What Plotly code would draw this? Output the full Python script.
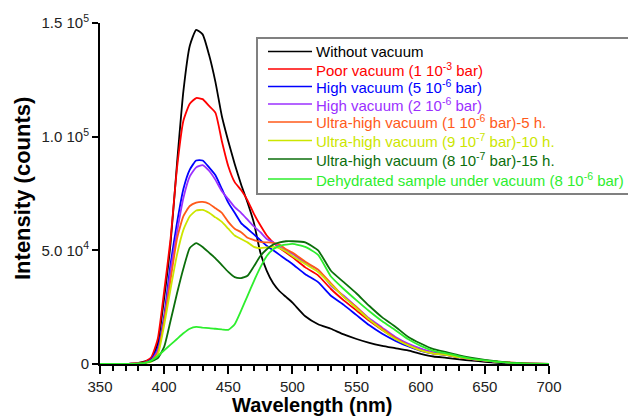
import plotly.graph_objects as go

# ---------------- data ----------------
wavelength = [350, 360, 370, 375, 380, 385, 390, 395, 400, 405, 410, 415, 420, 425, 430, 435,
              440, 445, 450, 455, 460, 465, 470, 475, 480, 485, 490, 495, 500,
              510, 520, 530, 540, 550, 560, 570, 580, 590, 600, 610, 620, 630, 640, 650,
              660, 670, 680, 690, 700]

# intensities in thousands of counts
without_vacuum = [0, 0, 0, 0.2, 0.5, 1.2, 2.5, 9, 29, 53, 88, 120, 140, 147, 145, 136,
                  124, 109, 98, 88, 79, 71, 62, 49, 41, 35.5, 32, 29.5, 27,
                  21, 17.5, 15.5, 13, 11, 9.3, 8, 7, 6, 4.5, 3.3, 2.7, 2, 1.5, 1,
                  0.5, 0.2, 0, 0, 0]
poor_vacuum = [0, 0, 0, 0.2, 0.5, 1, 3, 11, 32, 55, 86, 107, 114.5, 117, 116.5, 113.5,
               110.5, 98, 87, 80, 76.5, 72, 66, 61, 56.5, 53.5, 51, 49, 47,
               42.5, 39, 33, 28, 23.5, 19, 15, 11.5, 8.7, 6.5, 5, 4, 3, 2.2, 1.5,
               0.9, 0.5, 0.2, 0.05, 0]
high_vac_5e6 = [0, 0, 0, 0.1, 0.3, 0.6, 2, 7, 21, 44, 62, 77, 85.5, 89.5, 89.5, 86.5,
                83, 77, 71, 66.5, 62, 59.5, 57, 54.5, 52, 50, 48, 46, 44,
                39.5, 36, 30, 26, 21.5, 17, 13.3, 10.3, 7.8, 5.8, 4.6, 4, 3, 2.2, 1.5,
                0.9, 0.5, 0.2, 0.05, 0]
high_vac_2e6 = [0, 0, 0, 0.1, 0.3, 0.5, 1.5, 6, 19, 41, 58, 73, 82.5, 86.5, 87.5, 85,
                81, 76, 72.5, 69, 66.5, 63.5, 60.5, 58, 55, 53.5, 51.5, 50, 48.5,
                44.5, 41.5, 34.5, 30, 25, 20, 16, 12, 9, 6.8, 5, 4.1, 3.1, 2.2, 1.6,
                1, 0.6, 0.3, 0.1, 0]
uhv_5h = [0, 0, 0, 0.1, 0.3, 0.5, 1.5, 5, 19, 37, 55, 65, 69.5, 71, 71.3, 70.5,
          68.5, 66.5, 62.5, 59.5, 58, 55.5, 54.5, 53.7, 53.5, 53.3, 52.5, 50.5, 49,
          45, 41.5, 35.5, 29.5, 25, 19.5, 15.5, 11.5, 8.3, 6, 4.6, 4, 3, 2.2, 1.5,
          1, 0.6, 0.3, 0.1, 0]
uhv_10h = [0, 0, 0, 0.1, 0.2, 0.4, 1, 4, 17, 33, 48, 59, 65, 67.5, 67.8, 66.5,
           64.5, 62.5, 59.5, 56.5, 55, 53.5, 51.5, 51, 51.3, 51.5, 51, 49.5, 47.5,
           44, 40.5, 35, 29.5, 24.5, 19.5, 15, 11, 8.3, 6, 4.6, 4, 3, 2.2, 1.6,
           1, 0.6, 0.3, 0.1, 0]
uhv_15h = [0, 0, 0, 0, 0.2, 0.5, 1.2, 2.6, 7.5, 19, 31, 42, 51, 53.2, 51.5, 49,
           46.5, 43.5, 40.5, 38.2, 37.8, 38.8, 43, 47.5, 50.5, 52.5, 53.5, 54, 54,
           53.5, 50, 41, 36, 31, 25.5, 20.5, 16.5, 12, 9, 6.5, 5.2, 3.8, 2.7, 1.8,
           1.1, 0.6, 0.3, 0.1, 0]
dehydrated = [0, 0, 0, 0, 0.1, 0.5, 1.5, 3.5, 6, 8.5, 11, 13.5, 15.5, 16.3, 16, 15.8,
              15.5, 15.2, 15, 17.5, 23.5, 30, 36.5, 42.5, 47.5, 50.5, 52, 52.5, 52.8,
              51.5, 48, 38.5, 33, 28, 23.2, 18.8, 15, 11, 8, 5.8, 4.7, 3.4, 2.3, 1.6,
              1, 0.5, 0.2, 0, 0]

series_names = [
    "Without vacuum",
    "Poor vacuum (1 10<sup>-3</sup> bar)",
    "High vacuum (5 10<sup>-6</sup> bar)",
    "High vacuum (2 10<sup>-6</sup> bar)",
    "Ultra-high vacuum (1 10<sup>-6</sup> bar)-5 h.",
    "Ultra-high vacuum (9 10<sup>-7</sup> bar)-10 h.",
    "Ultra-high vacuum (8 10<sup>-7</sup> bar)-15 h.",
    "Dehydrated sample under vacuum (8 10<sup>-6</sup> bar)",
]
series_values = [without_vacuum, poor_vacuum, high_vac_5e6, high_vac_2e6,
                 uhv_5h, uhv_10h, uhv_15h, dehydrated]
series_colors = ["#000000", "#ff0000", "#0000ff", "#9b30ff",
                 "#ff5a1a", "#cce600", "#0b6e0b", "#2eee2e"]

y_tickvals = [0, 50000, 100000, 150000]
y_ticktext = ["0", "5.0 10<sup>4</sup>", "1.0 10<sup>5</sup>", "1.5 10<sup>5</sup>"]

# ---------------- layout geometry ----------------
# page body has an 8px default margin, so the figure is shrunk/shifted by 8px
OFF = 8
W, H = 636 - OFF, 417 - OFF
PLOT_L, PLOT_R, PLOT_T, PLOT_B = 100, 549, 23, 364   # viewport pixels
L, T = PLOT_L - OFF, PLOT_T - OFF
R, B = W - (PLOT_R - OFF), H - (PLOT_B - OFF)
PW, PH = PLOT_R - PLOT_L, PLOT_B - PLOT_T
FONT = "Liberation Sans, Arial, sans-serif"


def px_x(p):
    return (p - PLOT_L) / PW


def px_y(p):
    return (PLOT_B - p) / PH


fig = go.Figure()
for name, vals, col in zip(series_names, series_values, series_colors):
    fig.add_trace(go.Scatter(
        x=wavelength, y=[v * 1000 for v in vals], mode="lines", name=name,
        line=dict(color=col, width=1.8, shape="spline", smoothing=0.5),
        showlegend=False, hoverinfo="skip"))

shapes = []
annotations = []
# legend box
shapes.append(dict(type="rect", xref="paper", yref="paper",
                   x0=px_x(257), x1=px_x(634), y0=px_y(194), y1=px_y(38),
                   line=dict(color="#808080", width=2), fillcolor="rgba(0,0,0,0)"))
row_y = [51.5, 69, 86.5, 104, 122, 140.5, 159, 179]
for name, col, ry in zip(series_names, series_colors, row_y):
    shapes.append(dict(type="line", xref="paper", yref="paper",
                       x0=px_x(268), x1=px_x(312), y0=px_y(ry), y1=px_y(ry),
                       line=dict(color=col, width=1.6)))
    annotations.append(dict(xref="paper", yref="paper", x=px_x(314), y=px_y(ry),
                            xanchor="left", yanchor="middle", showarrow=False,
                            text=name, font=dict(family=FONT, size=15, color=col)))

annotations.append(dict(xref="paper", yref="paper", x=px_x(312), y=px_y(405),
                        xanchor="center", yanchor="middle", showarrow=False,
                        text="<b>Wavelength (nm)</b>",
                        font=dict(family=FONT, size=20, color="#000000")))
annotations.append(dict(xref="paper", yref="paper", x=px_x(22), y=px_y(189),
                        xanchor="center", yanchor="middle", showarrow=False,
                        textangle=-90, text="<b>Intensity (counts)</b>",
                        font=dict(family=FONT, size=22, color="#000000")))

fig.update_layout(
    width=W, height=H,
    margin=dict(l=L, r=R, t=T, b=B, autoexpand=False),
    paper_bgcolor="white", plot_bgcolor="white",
    showlegend=False,
    font=dict(family=FONT, size=15, color="#222222"),
    shapes=shapes, annotations=annotations,
    xaxis=dict(range=[350, 700], tickmode="array", tickvals=list(range(350, 701, 50)),
               showgrid=False, zeroline=False, showline=True, linecolor="black",
               linewidth=2, ticks="outside", ticklen=8, tickwidth=1.5, tickcolor="black",
               minor=dict(tickmode="linear", tick0=350, dtick=10, ticks="outside",
                          ticklen=5, tickwidth=1.5, tickcolor="black", showgrid=False),
               tickfont=dict(family=FONT, size=15, color="#222222"), automargin=False),
    yaxis=dict(range=[0, 150000], tickmode="array", tickvals=y_tickvals,
               ticktext=y_ticktext, showgrid=False, zeroline=False, showline=True,
               linecolor="black", linewidth=2, ticks="outside", ticklen=6,
               tickwidth=1.5, tickcolor="black",
               tickfont=dict(family=FONT, size=15, color="#222222"), automargin=False),
)

fig.write_html("out.html")
